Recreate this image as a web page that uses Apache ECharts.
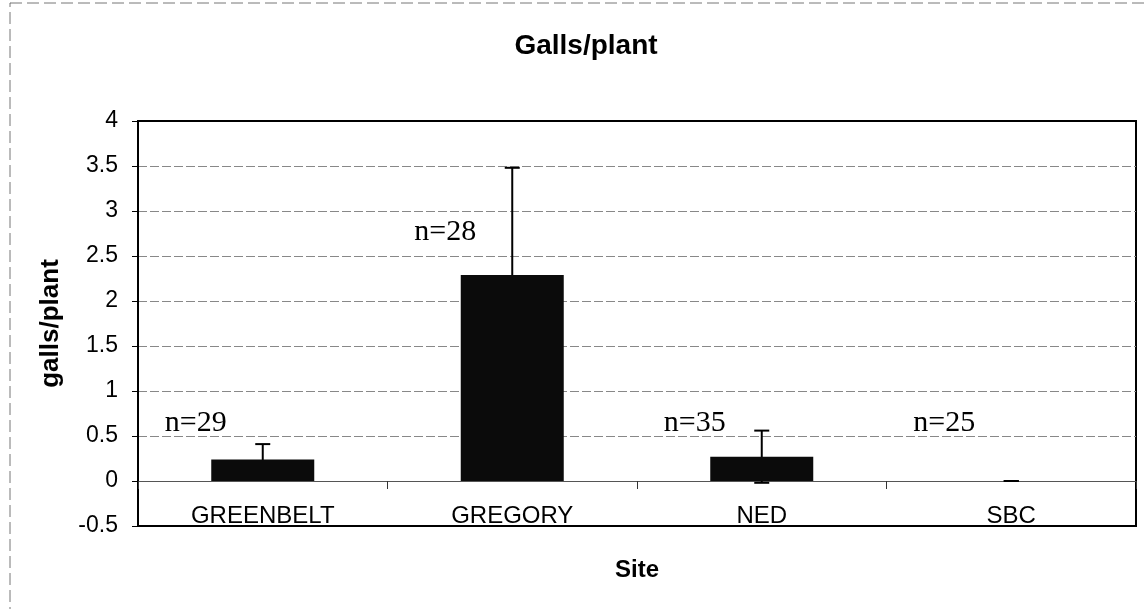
<!DOCTYPE html>
<html>
<head>
<meta charset="utf-8">
<script src="https://cdn.jsdelivr.net/npm/echarts@6/dist/echarts.min.js"></script>
<style>
html,body{margin:0;padding:0;background:#fff;}
#chart{width:1147px;height:609px;}
</style>
</head>
<body>
<div id="chart"></div>
<script>
// ---- data ----
const categories = ['GREENBELT', 'GREGORY', 'NED', 'SBC'];
const means = [0.24, 2.29, 0.27, 0];
const errors = [0.17, 1.19, 0.29, 0];
const nLabels = ['n=29', 'n=28', 'n=35', 'n=25'];
const nLabelY = [0.64, 2.76, 0.64, 0.64];
const yTicks = { min: -0.5, max: 4, interval: 0.5 };

const errData = means.map((m, i) => [i, m - errors[i], m + errors[i]]);
const labelData = nLabelY.map((y, i) => [i, y]);
const nLines = Math.round((yTicks.max - yTicks.min) / yTicks.interval) + 1;
const gridColors = Array.from({ length: nLines }, (_, k) => (k === 0 || k === nLines - 1) ? '#000' : '#888');

const chart = echarts.init(document.getElementById('chart'), null, { renderer: 'canvas' });
const SANS = 'Arial, "Liberation Sans", sans-serif';
const SERIF = '"Times New Roman", "Liberation Serif", serif';

chart.setOption({
  backgroundColor: '#fff',
  animation: false,
  title: {
    text: 'Galls/plant',
    left: 581,
    top: 27,
    textAlign: 'center',
    textStyle: { fontFamily: SANS, fontSize: 28, fontWeight: 'bold', color: '#000' }
  },
  graphic: [{
    type: 'rect',
    shape: { x: 10, y: 3, width: 1150, height: 620 },
    style: { fill: 'none', stroke: '#777', lineWidth: 1, lineDash: [12, 5] },
    silent: true
  }],
  grid: {
    left: 138, right: 11, top: 121, bottom: 83,
    show: true, borderColor: '#000', borderWidth: 2,
    containLabel: false, outerBoundsMode: 'none'
  },
  xAxis: {
    type: 'category',
    data: categories,
    name: 'Site',
    nameLocation: 'middle',
    nameGap: 32,
    nameTextStyle: { fontFamily: SANS, fontSize: 24, fontWeight: 'bold', color: '#000' },
    axisLine: { onZero: true, lineStyle: { color: '#555', width: 1 } },
    axisTick: { show: true, length: 8, lineStyle: { color: '#333' } },
    axisLabel: { margin: -22, fontFamily: SANS, fontSize: 24, color: '#000' },
    splitLine: { show: false }
  },
  yAxis: {
    type: 'value',
    min: yTicks.min, max: yTicks.max, interval: yTicks.interval,
    name: 'galls/plant',
    nameLocation: 'middle',
    nameGap: 74,
    nameRotate: 90,
    nameTextStyle: { fontFamily: SANS, fontSize: 26, fontWeight: 'bold', color: '#000' },
    axisLine: { show: true, lineStyle: { color: '#000', width: 2 } },
    axisTick: { show: true, length: 6, lineStyle: { color: '#000' } },
    axisLabel: { margin: 20, fontFamily: SANS, fontSize: 23, color: '#000' },
    splitLine: { show: true, lineStyle: { color: gridColors, width: 1, type: [9, 3] } }
  },
  series: [
    {
      type: 'bar',
      data: means,
      barWidth: 103,
      itemStyle: { color: '#0b0b0b' },
      z: 3
    },
    {
      type: 'custom',
      data: errData,
      z: 2,
      renderItem: function (params, api) {
        const i = api.value(0);
        const lo = api.coord([i, api.value(1)]);
        const hi = api.coord([i, api.value(2)]);
        const cap = 7.5;
        const st = { stroke: '#000', lineWidth: 2 };
        return {
          type: 'group',
          children: [
            { type: 'line', shape: { x1: hi[0], y1: lo[1], x2: hi[0], y2: hi[1] }, style: st },
            { type: 'line', shape: { x1: hi[0] - cap, y1: hi[1], x2: hi[0] + cap, y2: hi[1] }, style: st },
            { type: 'line', shape: { x1: lo[0] - cap, y1: lo[1], x2: lo[0] + cap, y2: lo[1] }, style: st }
          ]
        };
      }
    },
    {
      type: 'custom',
      data: labelData,
      z: 4,
      renderItem: function (params, api) {
        const p = api.coord([api.value(0), api.value(1)]);
        return {
          type: 'text',
          x: p[0] - 67,
          y: p[1],
          style: {
            text: nLabels[params.dataIndex],
            font: '30px ' + SERIF,
            fill: '#000',
            align: 'center',
            verticalAlign: 'middle'
          }
        };
      }
    }
  ]
});
</script>
</body>
</html>
